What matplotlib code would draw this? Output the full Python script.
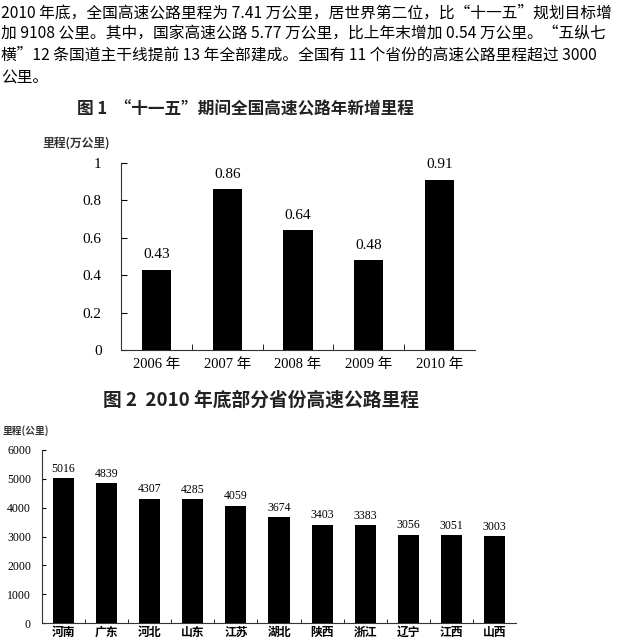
import matplotlib
matplotlib.use("Agg")
import matplotlib.pyplot as plt
import numpy as np

plt.rcParams['font.family'] = ['Noto Sans CJK SC', 'DejaVu Sans']

# paragraph above the charts
para_lines = [
    "2010 年底，全国高速公路里程为 7.41 万公里，居世界第二位，比“十一五”规划目标增",
    "加 9108 公里。其中，国家高速公路 5.77 万公里，比上年末增加 0.54 万公里。“五纵七",
    "横”12 条国道主干线提前 13 年全部建成。全国有 11 个省份的高速公路里程超过 3000",
    "公里。",
]

# figure 1: yearly new mileage
years = ["2006 年", "2007 年", "2008 年", "2009 年", "2010 年"]
new_km = [0.43, 0.86, 0.64, 0.48, 0.91]
new_km_labels = ["0.43", "0.86", "0.64", "0.48", "0.91"]

# figure 2: provincial mileage end of 2010
provinces = ["河南", "广东", "河北", "山东", "江苏", "湖北", "陕西", "浙江", "辽宁", "江西", "山西"]
prov_km = [5016, 4839, 4307, 4285, 4059, 3674, 3403, 3383, 3056, 3051, 3003]

W, H = 618, 643
fig = plt.figure(figsize=(W / 100, H / 100), dpi=100)

serif = ['Liberation Serif', 'Noto Sans CJK SC']

line_y = [13, 34, 55, 77]
for txt, y in zip(para_lines, line_y):
    fig.text(1 / W, 1 - y / H, txt, fontsize=11.3, va='center', ha='left')

# ---------- chart 1
fig.text(77 / W, 1 - 110 / H, "图 1  “十一五”期间全国高速公路年新增里程",
         fontsize=12, fontweight='bold', va='center', ha='left', color='#222222')
fig.text(42 / W, 1 - 143 / H, "里程(万公里)", fontsize=8.5, fontweight='bold',
         va='center', ha='left', color='#333333')

ax1 = fig.add_axes([121 / W, 1 - 350 / H, (475 - 121) / W, (350 - 163) / H])
x1 = np.arange(len(years))
ax1.bar(x1, new_km, width=0.41, color='black')
for xi, v, lab in zip(x1, new_km, new_km_labels):
    ax1.annotate(lab, (xi, v), xytext=(0, 6), textcoords='offset points',
                 ha='center', va='bottom', fontsize=11, family=serif)
ax1.set_xlim(-0.5, len(years) - 0.5)
ax1.set_ylim(0, 1)
ax1.set_yticks([0, 0.2, 0.4, 0.6, 0.8, 1])
ax1.set_yticklabels(["0", "0.2", "0.4", "0.6", "0.8", "1"], family=serif, fontsize=11)
ax1.set_xticks(x1)
ax1.set_xticklabels(years, family=serif, fontsize=10.5)
ax1.set_xticks(np.arange(0.5, len(years) - 0.5, 1), minor=True)
ax1.tick_params(axis='x', which='major', length=0, pad=6)
ax1.tick_params(axis='x', which='minor', direction='in', length=4)
ax1.tick_params(axis='y', direction='in', length=4, pad=14)
for s in ['top', 'right']:
    ax1.spines[s].set_visible(False)
ax1.spines['left'].set_color('#333333')
ax1.spines['bottom'].set_color('#333333')

# ---------- chart 2
fig.text(103 / W, 1 - 400 / H, "图 2  2010 年底部分省份高速公路里程",
         fontsize=13.5, fontweight='bold', va='center', ha='left', color='#222222')
fig.text(3 / W, 1 - 431 / H, "里程(公里)", fontsize=7, fontweight='bold',
         va='center', ha='left', color='#333333')

ax2 = fig.add_axes([42 / W, 1 - 623 / H, (516 - 42) / W, (623 - 450) / H])
x2 = np.arange(len(provinces))
ax2.bar(x2, prov_km, width=0.49, color='black')
for xi, v in zip(x2, prov_km):
    ax2.annotate(str(v), (xi, v), xytext=(0, 2.5), textcoords='offset points',
                 ha='center', va='bottom', fontsize=8.5, family=serif)
ax2.set_xlim(-0.5, len(provinces) - 0.5)
ax2.set_ylim(0, 6000)
ax2.set_yticks(range(0, 6001, 1000))
ax2.set_yticklabels([str(v) for v in range(0, 6001, 1000)], family=serif, fontsize=8.5)
ax2.set_xticks(x2)
ax2.set_xticklabels(provinces, family=serif, fontsize=8.5, fontweight='bold')
ax2.set_xticks(np.arange(0.5, len(provinces) - 0.5, 1), minor=True)
ax2.tick_params(axis='x', which='major', length=0, pad=3)
ax2.tick_params(axis='x', which='minor', direction='in', length=3)
ax2.tick_params(axis='y', direction='in', length=3, pad=8)
for s in ['top', 'right']:
    ax2.spines[s].set_visible(False)
ax2.spines['left'].set_color('#333333')
ax2.spines['bottom'].set_color('#333333')

fig.savefig("out.png", dpi=100)
